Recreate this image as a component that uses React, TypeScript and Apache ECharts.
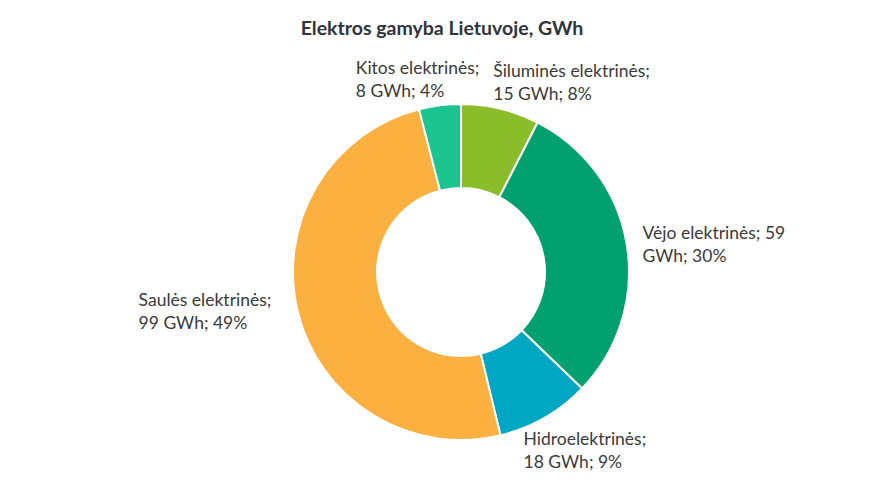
import React, { useEffect, useRef } from "react";
import * as echarts from "echarts";

const titleText = "Elektros gamyba Lietuvoje, GWh";
const categories = [
  "Šiluminės elektrinės",
  "Vėjo elektrinės",
  "Hidroelektrinės",
  "Saulės elektrinės",
  "Kitos elektrinės",
];
const values = [15, 59, 18, 99, 8];
const percents = [8, 30, 9, 49, 4];
const colors = ["#8bbd2b", "#00a06f", "#00a7c2", "#fbb03f", "#1cc590"];
// label nudges [dx, dy] relative to ECharts' default outside position
const labelNudge = [
  [-19, -15],
  [-5, 2],
  [-36, 22],
  [-6, -5],
  [50, -14],
];

export default function App() {
  const ref = useRef<HTMLDivElement>(null);
  useEffect(() => {
    document.body.style.margin = "0";
    const chart = echarts.init(ref.current!, null, { renderer: "svg" });
    const font = "Lato, 'Noto Sans', sans-serif";
    chart.setOption({
      animation: false,
      title: {
        text: titleText,
        left: "center",
        top: 12,
        textStyle: { fontFamily: font, fontSize: 19.5, fontWeight: "bold", color: "#2e3440" },
      },
      series: [
        {
          type: "pie",
          center: [461, 272],
          radius: [84, 168],
          startAngle: 90,
          clockwise: true,
          itemStyle: { borderColor: "#fff", borderWidth: 2 },
          label: {
            show: true,
            position: "outside",
            fontFamily: font,
            fontSize: 17.5,
            lineHeight: 23,
            color: "#3a3a3a",
            formatter: (p: any) => {
              const i = p.dataIndex;
              if (i === 1) return `${categories[i]}; ${values[i]}\nGWh; ${percents[i]}%`;
              return `${categories[i]};\n${values[i]} GWh; ${percents[i]}%`;
            },
          },
          labelLine: { show: false, length: 12, length2: 4 },
          labelLayout: (p: any) => {
            const r = p.labelRect;
            const n = labelNudge[p.dataIndex];
            return {
              x: r.x + n[0],
              y: r.y + r.height / 2 + n[1],
              align: "left",
              verticalAlign: "middle",
            };
          },
          data: categories.map((c, i) => ({
            name: c,
            value: values[i],
            itemStyle: { color: colors[i] },
          })),
        },
      ],
    });
    return () => chart.dispose();
  }, []);
  return <div ref={ref} style={{ width: 884, height: 489 }} />;
}
